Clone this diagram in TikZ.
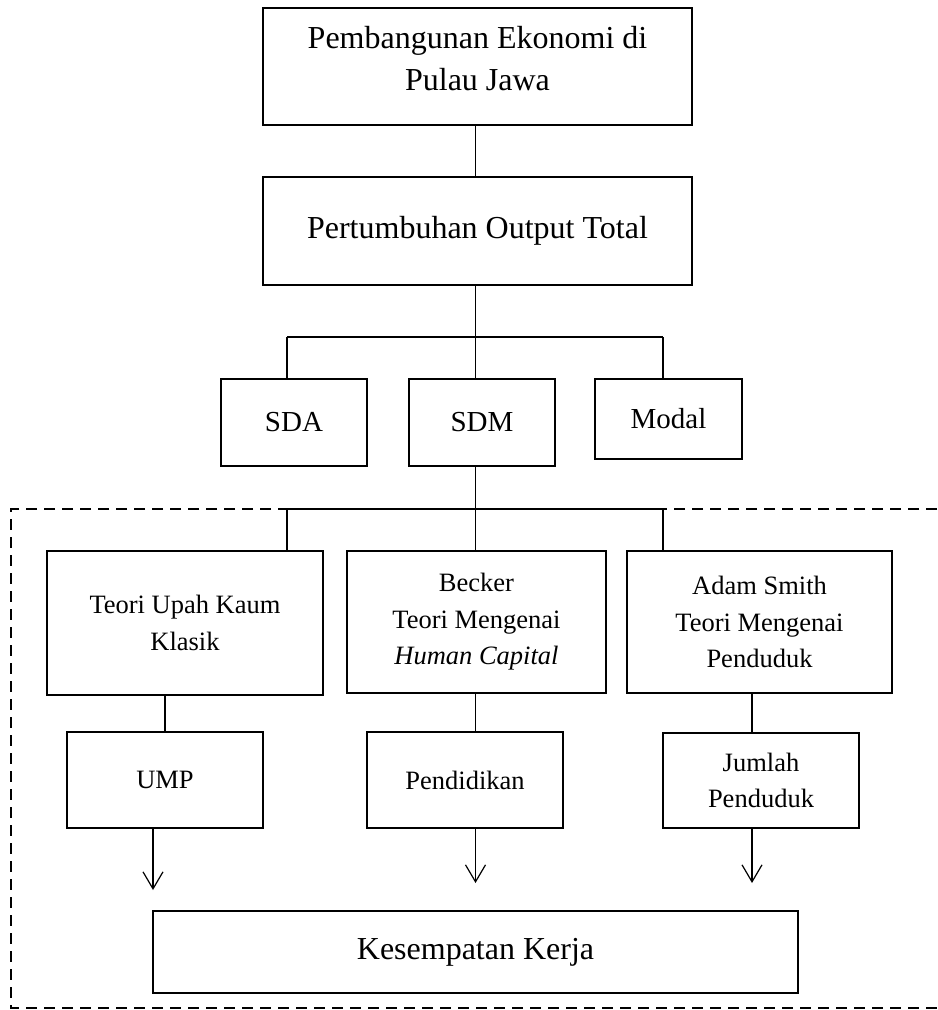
\documentclass[tikz,border=0pt]{standalone}
\usepackage{fontspec}
\setmainfont{Liberation Serif}
\usetikzlibrary{arrows.meta}
\usetikzlibrary{positioning}

\begin{document}
\begin{tikzpicture}[%
  x=0.5pt, y=-0.5pt,
  >={Straight Barb[length=8.5pt,width=10pt]},
  box/.style={draw=black, line width=0.6pt, inner sep=0pt, align=center,
    font=\fontsize{13.25}{18.25}\selectfont},
  bigbox/.style={box, font=\fontsize{16}{21}\selectfont},
  midbox/.style={box, font=\fontsize{14.5}{17}\selectfont},
  link/.style={draw=black, line width=0.6pt},
  region/.style={draw=black, line width=1pt, dash pattern=on 5.5pt off 3.5pt},
]

  \useasboundingbox (0,0) rectangle (937,1010);

  % upper part
  \node[bigbox, minimum width=214.5pt, minimum height=58.5pt, text depth=8pt] (ekonomi) at (477.5,66.5) {Pembangunan Ekonomi di\\Pulau Jawa};
  \node[bigbox, minimum width=214.5pt, minimum height=54pt] (output) at (477.5,231) {Pertumbuhan Output Total};

  \node[midbox, minimum width=73pt, minimum height=43.5pt] (sda) at (294,422.5) {SDA};
  \node[midbox, minimum width=73pt, minimum height=43.5pt] (sdm) at (482,422.5) {SDM};
  \node[midbox, minimum width=73.5pt, minimum height=40pt] (modal) at (668.5,419) {Modal};

  % dashed part
  \draw[region] (937,509) -- (11,509) -- (11,1008) -- (937,1008);

  \node[box, minimum width=138pt, minimum height=72pt] (klasik) at (185,623) {Teori Upah Kaum\\Klasik};
  \node[box, minimum width=129.5pt, minimum height=71pt] (becker) at (476.5,622) {Becker\\Teori Mengenai\\\textit{Human Capital}};
  \node[box, minimum width=132.5pt, minimum height=71pt] (smith) at (759.5,622) {Adam Smith\\Teori Mengenai\\Penduduk};

  \node[box, minimum width=98pt, minimum height=48pt] (ump) at (165,780) {UMP};
  \node[box, minimum width=98pt, minimum height=48pt] (pendidikan) at (465,780) {Pendidikan};
  \node[box, minimum width=98pt, minimum height=47.5pt] (jumlah) at (761,780.5) {Jumlah\\Penduduk};

  \node[bigbox, minimum width=322.5pt, minimum height=41pt] (kerja) at (475.5,952) {Kesempatan Kerja};

  % junctions
  \coordinate (hubA) at (475.5,337);
  \coordinate (leftA) at (287,337);
  \coordinate (rightA) at (663,337);
  \coordinate (hubB) at (475.5,509);
  \coordinate (leftB) at (287,509);
  \coordinate (rightB) at (663,509);
  \coordinate (colC) at (752,700);
  \coordinate (tipA) at (153,890);
  \coordinate (tipB) at (475.5,883);
  \coordinate (tipC) at (752,883);

  \draw[link] (ekonomi.south -| hubA) -- (output.north -| hubA);
  \draw[link] (output.south -| hubA) -- (hubA);
  \draw[link] (leftA) -- (rightA);
  \draw[link] (leftA) -- (leftA |- sda.north);
  \draw[link] (hubA) -- (hubA |- sdm.north);
  \draw[link] (rightA) -- (rightA |- modal.north);

  \draw[link] (sdm.south -| hubA) -- (hubB);
  \draw[link] (leftB) -- (rightB);
  \draw[link] (leftB) -- (leftB |- klasik.north);
  \draw[link] (hubB) -- (hubB |- becker.north);
  \draw[link] (rightB) -- (rightB |- smith.north);

  \draw[link] (klasik.south -| ump.north) -- (ump.north);
  \draw[link] (becker.south -| hubB) -- (pendidikan.north -| hubB);
  \draw[link] (smith.south -| colC) -- (jumlah.north -| colC);

  \draw[link,->] (ump.south -| tipA) -- (tipA);
  \draw[link,->] (pendidikan.south -| tipB) -- (tipB);
  \draw[link,->] (jumlah.south -| tipC) -- (tipC);

\end{tikzpicture}
\end{document}
